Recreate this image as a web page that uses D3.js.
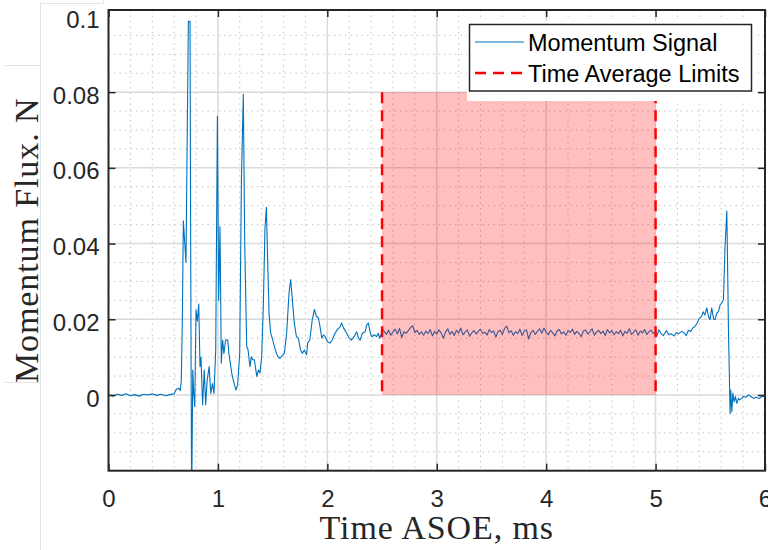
<!DOCTYPE html>
<html>
<head>
<meta charset="utf-8">
<script src="https://cdn.jsdelivr.net/npm/d3@7"></script>
<style>
  html, body { margin: 0; padding: 0; background: #ffffff; }
  svg { display: block; }
</style>
</head>
<body>
<div id="chart"></div>
<script>
// momentum flux trace: [time ms, flux N]
const momentumSignal = [
  [0.00, 0.0000], [0.04, -0.0003], [0.08, 0.0002], [0.12, -0.0001], [0.16, 0.0003],
  [0.20, -0.0002], [0.24, 0.0001], [0.28, -0.0003], [0.32, 0.0002], [0.36, 0.0000],
  [0.40, 0.0003], [0.44, -0.0001], [0.48, 0.0002], [0.52, -0.0002], [0.56, 0.0001],
  [0.60, 0.0003], [0.62, 0.0015], [0.64, 0.0018], [0.655, 0.0012], [0.665, 0.0035],
  [0.675, 0.0200], [0.684, 0.0460], [0.695, 0.0410], [0.708, 0.0350], [0.720, 0.0700],
  [0.730, 0.0987], [0.745, 0.0987], [0.752, 0.0300], [0.760, -0.0300], [0.770, 0.0066],
  [0.778, 0.0010], [0.788, -0.0030], [0.800, 0.0225], [0.812, 0.0195], [0.825, 0.0240],
  [0.836, 0.0075], [0.845, 0.0100], [0.860, -0.0026], [0.875, 0.0066], [0.888, -0.0026],
  [0.902, 0.0040], [0.920, 0.0075], [0.935, 0.0004], [0.950, 0.0030], [0.964, 0.0004],
  [0.980, 0.0120], [0.995, 0.0736], [1.007, 0.0250], [1.019, 0.0445], [1.031, 0.0084],
  [1.043, 0.0145], [1.055, 0.0110], [1.070, 0.0145], [1.090, 0.0146], [1.100, 0.0110],
  [1.126, 0.0058], [1.140, 0.0040], [1.165, 0.0013], [1.180, 0.0026], [1.199, 0.0110],
  [1.215, 0.0570], [1.232, 0.0795], [1.245, 0.0400], [1.263, 0.0128], [1.275, 0.0120],
  [1.293, 0.0075], [1.305, 0.0101], [1.318, 0.0093], [1.333, 0.0093], [1.355, 0.0049],
  [1.370, 0.0066], [1.385, 0.0058], [1.400, 0.0102], [1.415, 0.0235], [1.430, 0.0440],
  [1.443, 0.0496], [1.455, 0.0350], [1.467, 0.0217], [1.482, 0.0164], [1.500, 0.0146],
  [1.516, 0.0128], [1.530, 0.0115], [1.546, 0.0102], [1.565, 0.0097], [1.583, 0.0102],
  [1.607, 0.0110], [1.628, 0.0163], [1.650, 0.0270], [1.665, 0.0305], [1.680, 0.0252],
  [1.698, 0.0190], [1.717, 0.0155], [1.735, 0.0150], [1.755, 0.0119], [1.772, 0.0110],
  [1.790, 0.0119], [1.810, 0.0106], [1.820, 0.0137], [1.840, 0.0146], [1.863, 0.0200],
  [1.882, 0.0226], [1.900, 0.0208], [1.918, 0.0204], [1.933, 0.0181], [1.949, 0.0150],
  [1.965, 0.0159], [1.979, 0.0155], [2.000, 0.0141], [2.025, 0.0137], [2.045, 0.0146],
  [2.070, 0.0163], [2.090, 0.0172], [2.116, 0.0180], [2.130, 0.0190], [2.150, 0.0176],
  [2.177, 0.0163], [2.200, 0.0150], [2.220, 0.0145], [2.244, 0.0154], [2.268, 0.0167],
  [2.285, 0.0150], [2.300, 0.0145], [2.320, 0.0163], [2.345, 0.0167], [2.360, 0.0185],
  [2.375, 0.0190], [2.390, 0.0167], [2.406, 0.0154], [2.430, 0.0159], [2.450, 0.0154],
  [2.465, 0.0163], [2.480, 0.0150], [2.495, 0.0163], [2.510, 0.0172],
  [2.52, 0.0168], [2.54, 0.0160], [2.56, 0.0171], [2.58, 0.0158], [2.60, 0.0166],
  [2.62, 0.0174], [2.64, 0.0161], [2.66, 0.0176], [2.68, 0.0152], [2.70, 0.0167],
  [2.72, 0.0163], [2.74, 0.0170], [2.76, 0.0178], [2.78, 0.0183], [2.80, 0.0165],
  [2.82, 0.0171], [2.84, 0.0160], [2.86, 0.0167], [2.88, 0.0158], [2.90, 0.0169],
  [2.92, 0.0162], [2.94, 0.0173], [2.96, 0.0156], [2.98, 0.0168], [3.00, 0.0161],
  [3.02, 0.0172], [3.04, 0.0164], [3.06, 0.0150], [3.08, 0.0166], [3.10, 0.0175],
  [3.12, 0.0160], [3.14, 0.0168], [3.16, 0.0157], [3.18, 0.0171], [3.20, 0.0163],
  [3.22, 0.0177], [3.24, 0.0159], [3.26, 0.0166], [3.28, 0.0172], [3.30, 0.0155],
  [3.32, 0.0164], [3.34, 0.0170], [3.36, 0.0161], [3.38, 0.0168], [3.40, 0.0174],
  [3.42, 0.0162], [3.44, 0.0166], [3.46, 0.0158], [3.48, 0.0173], [3.50, 0.0165],
  [3.52, 0.0169], [3.54, 0.0153], [3.56, 0.0167], [3.58, 0.0171], [3.60, 0.0160],
  [3.62, 0.0176], [3.64, 0.0182], [3.66, 0.0164], [3.68, 0.0170], [3.70, 0.0158],
  [3.72, 0.0167], [3.74, 0.0162], [3.76, 0.0174], [3.78, 0.0157], [3.80, 0.0169],
  [3.82, 0.0172], [3.84, 0.0148], [3.86, 0.0165], [3.88, 0.0171], [3.90, 0.0160],
  [3.92, 0.0168], [3.94, 0.0175], [3.96, 0.0163], [3.98, 0.0177], [4.00, 0.0166],
  [4.02, 0.0159], [4.04, 0.0171], [4.06, 0.0164], [4.08, 0.0156], [4.10, 0.0169],
  [4.12, 0.0173], [4.14, 0.0161], [4.16, 0.0167], [4.18, 0.0158], [4.20, 0.0170],
  [4.22, 0.0165], [4.24, 0.0174], [4.26, 0.0160], [4.28, 0.0168], [4.30, 0.0163],
  [4.32, 0.0154], [4.34, 0.0169], [4.36, 0.0172], [4.38, 0.0161], [4.40, 0.0167],
  [4.42, 0.0175], [4.44, 0.0158], [4.46, 0.0166], [4.48, 0.0171], [4.50, 0.0162],
  [4.52, 0.0169], [4.54, 0.0157], [4.56, 0.0173], [4.58, 0.0164], [4.60, 0.0170],
  [4.62, 0.0159], [4.64, 0.0167], [4.66, 0.0162], [4.68, 0.0171], [4.70, 0.0156],
  [4.72, 0.0168], [4.74, 0.0163], [4.76, 0.0175], [4.78, 0.0160], [4.80, 0.0166],
  [4.82, 0.0172], [4.84, 0.0158], [4.86, 0.0169], [4.88, 0.0164], [4.90, 0.0173],
  [4.92, 0.0160], [4.94, 0.0167], [4.96, 0.0171], [4.98, 0.0162], [5.00, 0.0166],
  [5.01, 0.0155], [5.03, 0.0172], [5.05, 0.0162], [5.07, 0.0157], [5.10, 0.0170],
  [5.12, 0.0159], [5.14, 0.0162], [5.17, 0.0156], [5.19, 0.0165], [5.21, 0.0162],
  [5.24, 0.0168], [5.26, 0.0164], [5.28, 0.0157], [5.30, 0.0171], [5.32, 0.0168],
  [5.34, 0.0177], [5.36, 0.0181], [5.38, 0.0190], [5.40, 0.0203], [5.42, 0.0207],
  [5.435, 0.0220], [5.45, 0.0211], [5.468, 0.0230], [5.483, 0.0208], [5.498, 0.0199],
  [5.513, 0.0230], [5.53, 0.0201], [5.544, 0.0199], [5.559, 0.0216], [5.574, 0.0220],
  [5.59, 0.0238], [5.605, 0.0243], [5.62, 0.0252], [5.635, 0.0393], [5.651, 0.0486],
  [5.66, 0.0304], [5.666, 0.0172], [5.681, -0.0049], [5.687, 0.0013], [5.697, -0.0044],
  [5.706, 0.0005], [5.718, -0.0018], [5.73, -0.0004], [5.742, -0.0022], [5.757, -0.0009],
  [5.766, -0.0013], [5.788, -0.0009], [5.80, -0.0004], [5.825, -0.0006], [5.85, 0.0000],
  [5.87, -0.0004], [5.895, -0.0009], [5.92, -0.0006], [5.95, -0.0009], [5.97, -0.0004],
  [5.99, -0.0004], [6.00, -0.0002]
];

const avgLimits = [2.5, 5];      // time average window, ms
const avgBandTop = 0.08;         // shaded band height
const xTicks = [0, 1, 2, 3, 4, 5, 6];
const yTicks = [0, 0.02, 0.04, 0.06, 0.08, 0.1];
const yTickLabels = ["0", "0.02", "0.04", "0.06", "0.08", "0.1"];
const xMinor = d3.range(0, 6.001, 0.2);
const yMinor = d3.range(-0.02, 0.1001, 0.005);
const legendItems = ["Momentum Signal", "Time Average Limits"];

const width = 768, height = 550;
const margin = { top: 10, right: 3, bottom: 79.3, left: 108.5 };
const colSignal = "#0072bd";
const colAxis = "#262626";
const sans = "'Liberation Sans', Arial, Helvetica, sans-serif";
const serif = "'Liberation Serif', 'Times New Roman', serif";

const svg = d3.select("#chart").append("svg")
  .attr("width", width).attr("height", height)
  .style("background", "#ffffff");

// stray screenshot edges on the left
const junk = svg.append("g").attr("stroke", "#e3e3e3").attr("stroke-width", 1);
junk.append("line").attr("x1", 40.5).attr("x2", 40.5).attr("y1", 3).attr("y2", height);
junk.append("line").attr("x1", 40.5).attr("x2", 103.5).attr("y1", 3.5).attr("y2", 3.5);
junk.append("line").attr("x1", 103.5).attr("x2", 103.5).attr("y1", 0).attr("y2", 3.5);
junk.append("line").attr("x1", 5).attr("x2", 40).attr("y1", 65.5).attr("y2", 65.5);
junk.append("line").attr("x1", 5).attr("x2", 40).attr("y1", 382.5).attr("y2", 382.5);

const x = d3.scaleLinear().domain([0, 6]).range([margin.left, width - margin.right]);
const y = d3.scaleLinear().domain([-0.02, 0.1017]).range([height - margin.bottom, margin.top]);
const [x0, x1] = x.range();
const [y0, y1] = y.range();

svg.append("defs").append("clipPath").attr("id", "plotclip")
  .append("rect").attr("x", x0).attr("y", y1).attr("width", x1 - x0).attr("height", y0 - y1);

const plot = svg.append("g").attr("clip-path", "url(#plotclip)");

// minor grid (dotted)
const minor = plot.append("g").attr("stroke", "#c4c4c4").attr("stroke-width", 1)
  .attr("stroke-dasharray", "1.5,4");
minor.selectAll("line.mx").data(xMinor.filter(t => Math.abs(t - Math.round(t)) > 1e-6))
  .join("line").attr("class", "mx")
  .attr("x1", d => x(d)).attr("x2", d => x(d)).attr("y1", y1).attr("y2", y0);
minor.selectAll("line.my").data(yMinor.filter(v => Math.abs(v / 0.02 - Math.round(v / 0.02)) > 1e-6))
  .join("line").attr("class", "my")
  .attr("x1", x0).attr("x2", x1).attr("y1", d => y(d)).attr("y2", d => y(d));

// major grid
const major = plot.append("g").attr("stroke", "#dadada").attr("stroke-width", 1.5);
major.selectAll("line.gx").data(xTicks).join("line").attr("class", "gx")
  .attr("x1", d => x(d)).attr("x2", d => x(d)).attr("y1", y1).attr("y2", y0);
major.selectAll("line.gy").data([-0.02, 0, 0.02, 0.04, 0.06, 0.08]).join("line").attr("class", "gy")
  .attr("x1", x0).attr("x2", x1).attr("y1", d => y(d)).attr("y2", d => y(d));

// signal
const line = d3.line().x(d => x(d[0])).y(d => y(d[1]));
plot.append("path").datum(momentumSignal)
  .attr("fill", "none").attr("stroke", colSignal).attr("stroke-width", 1.1)
  .attr("stroke-linejoin", "round").attr("d", line);

// shaded averaging window (translucent red on top of the trace)
plot.append("rect")
  .attr("x", x(avgLimits[0])).attr("width", x(avgLimits[1]) - x(avgLimits[0]))
  .attr("y", y(avgBandTop)).attr("height", y(0) - y(avgBandTop))
  .attr("fill", "#ff0000").attr("fill-opacity", 0.25);

plot.selectAll("line.lim").data(avgLimits).join("line").attr("class", "lim")
  .attr("x1", d => x(d)).attr("x2", d => x(d))
  .attr("y1", y(avgBandTop)).attr("y2", y(0))
  .attr("stroke", "#ff0000").attr("stroke-width", 2.5).attr("stroke-dasharray", "11,7");

// axes with inward ticks on all four sides
function styleAxis(g) {
  g.select(".domain").remove();
  g.selectAll(".tick line").attr("stroke", colAxis).attr("stroke-width", 1.5);
  g.selectAll(".tick text").attr("fill", colAxis).attr("font-family", sans).attr("font-size", 24);
}

svg.append("g").attr("transform", `translate(0,${y0})`)
  .call(d3.axisBottom(x).tickValues(xTicks).tickSize(-7).tickPadding(19).tickFormat(d3.format("d")))
  .call(styleAxis);
svg.append("g").attr("transform", `translate(0,${y1})`)
  .call(d3.axisTop(x).tickValues(xTicks).tickSize(-7).tickFormat(""))
  .call(styleAxis);

const yAxisL = svg.append("g").attr("transform", `translate(${x0},0)`)
  .call(d3.axisLeft(y).tickValues(yTicks).tickSize(-7).tickPadding(9)
    .tickFormat((d, i) => yTickLabels[i]))
  .call(styleAxis);
yAxisL.selectAll(".tick text").attr("dy", "0.46em");
yAxisL.selectAll(".tick line").filter(d => d > 0.09).remove();

const yAxisR = svg.append("g").attr("transform", `translate(${x1},0)`)
  .call(d3.axisRight(y).tickValues(yTicks).tickSize(-7).tickFormat(""))
  .call(styleAxis);
yAxisR.selectAll(".tick line").filter(d => d > 0.09).remove();

svg.append("rect")
  .attr("x", x0).attr("y", y1).attr("width", x1 - x0).attr("height", y0 - y1)
  .attr("fill", "none").attr("stroke", colAxis).attr("stroke-width", 2);

// axis labels
svg.append("text")
  .attr("x", (x0 + x1) / 2).attr("y", 539)
  .attr("text-anchor", "middle").attr("font-family", serif).attr("font-size", 34)
  .attr("letter-spacing", 0.9)
  .attr("fill", colAxis).text("Time ASOE, ms");

svg.append("text")
  .attr("transform", `translate(38,${(y0 + y1) / 2}) rotate(-90)`)
  .attr("text-anchor", "middle").attr("font-family", serif).attr("font-size", 34)
  .attr("letter-spacing", 0.9)
  .attr("fill", colAxis).text("Momentum Flux. N");

// legend
const lg = svg.append("g");
lg.append("rect").attr("x", 467).attr("y", 21).attr("width", 290).attr("height", 80)
  .attr("fill", "#ffffff");
lg.append("rect").attr("x", 469.5).attr("y", 24.5).attr("width", 282).attr("height", 66.5)
  .attr("fill", "#ffffff").attr("stroke", colAxis).attr("stroke-width", 1.5);

const rows = [42, 73];
lg.append("line").attr("x1", 475).attr("x2", 524).attr("y1", rows[0]).attr("y2", rows[0])
  .attr("stroke", colSignal).attr("stroke-width", 1.1);
lg.append("line").attr("x1", 475).attr("x2", 524).attr("y1", rows[1]).attr("y2", rows[1])
  .attr("stroke", "#ff0000").attr("stroke-width", 2.5).attr("stroke-dasharray", "11,7");
lg.selectAll("text.lt").data(legendItems).join("text").attr("class", "lt")
  .attr("x", 528).attr("y", (d, i) => rows[i] + 8.7)
  .attr("font-family", sans).attr("font-size", 23.5).attr("fill", "#000000")
  .text(d => d);
</script>
</body>
</html>
